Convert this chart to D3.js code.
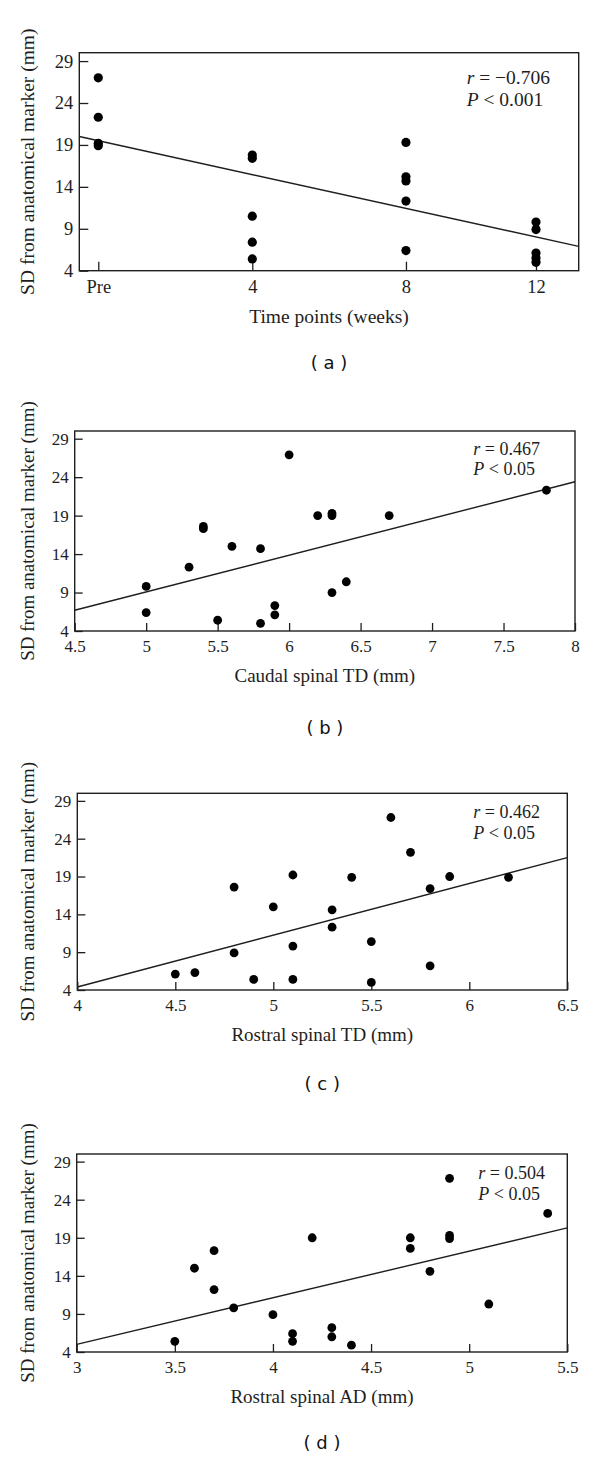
<!DOCTYPE html>
<html>
<head>
<meta charset="utf-8">
<script src="https://cdn.jsdelivr.net/npm/d3@7"></script>
<style>
  html, body { margin: 0; padding: 0; background: #fff; }
  svg { display: block; }
</style>
</head>
<body>
<script>
// ---------------- DATA ----------------
// Panel (a): time points
const aTickValues = [0, 4, 8, 12];
const aTickLabels = ["Pre", "4", "8", "12"];
const aX = [0, 0, 0, 0, 4, 4, 4, 4, 4, 8, 8, 8, 8, 8, 12, 12, 12, 12, 12];
const aY = [27.0, 22.3, 19.2, 18.9, 17.8, 17.4, 10.5, 7.4, 5.4, 19.3, 15.2, 14.7, 12.3, 6.4, 9.8, 8.9, 6.1, 5.5, 5.0];
const aLineX = [-0.5, 13.3];
const aLineY = [20.0, 6.9];
const aStats = ["−0.706", "0.001"];

// Panel (b): caudal spinal TD
const bTickValues = [4.5, 5, 5.5, 6, 6.5, 7, 7.5, 8];
const bX = [5.0, 5.0, 5.3, 5.4, 5.4, 5.5, 5.6, 5.8, 5.8, 5.9, 5.9, 6.0, 6.2, 6.3, 6.3, 6.3, 6.4, 6.7, 7.8];
const bY = [9.8, 6.4, 12.3, 17.6, 17.3, 5.4, 15.0, 14.7, 5.0, 7.3, 6.1, 26.9, 19.0, 19.3, 19.0, 9.0, 10.4, 19.0, 22.3];
const bLineX = [4.5, 8];
const bLineY = [6.7, 23.4];
const bStats = ["0.467", "0.05"];

// Panel (c): rostral spinal TD
const cTickValues = [4, 4.5, 5, 5.5, 6, 6.5];
const cX = [4.5, 4.6, 4.8, 4.8, 4.9, 5.0, 5.1, 5.1, 5.1, 5.3, 5.3, 5.4, 5.5, 5.5, 5.6, 5.7, 5.8, 5.8, 5.9, 6.2];
const cY = [6.1, 6.3, 17.6, 8.9, 5.4, 15.0, 19.2, 9.8, 5.4, 14.6, 12.3, 18.9, 10.4, 5.0, 26.8, 22.2, 17.4, 7.2, 19.0, 18.9];
const cLineX = [4, 6.5];
const cLineY = [4.4, 21.5];
const cStats = ["0.462", "0.05"];

// Panel (d): rostral spinal AD
const dTickValues = [3, 3.5, 4, 4.5, 5, 5.5];
const dX = [3.5, 3.6, 3.7, 3.7, 3.8, 4.0, 4.1, 4.1, 4.2, 4.3, 4.3, 4.4, 4.7, 4.7, 4.8, 4.9, 4.9, 4.9, 5.1, 5.4];
const dY = [5.4, 15.0, 17.3, 12.2, 9.8, 8.9, 6.4, 5.4, 19.0, 7.2, 6.0, 4.9, 19.0, 17.6, 14.6, 26.8, 19.3, 18.9, 10.3, 22.2];
const dLineX = [3, 5.5];
const dLineY = [5.0, 20.3];
const dStats = ["0.504", "0.05"];

const yTickValues = [4, 9, 14, 19, 24, 29];
const yTitle = "SD from anatomical marker (mm)";
const xTitles = ["Time points (weeks)", "Caudal spinal TD (mm)", "Rostral spinal TD (mm)", "Rostral spinal AD (mm)"];
const captions = ["( a )", "( b )", "( c )", "( d )"];

// ---------------- LAYOUT ----------------
const W = 600, H = 1460;
const SERIF = "'Liberation Serif', 'Times New Roman', serif";
const INK = "#1e1e1e";

const svg = d3.select("body").append("svg")
  .attr("width", W).attr("height", H)
  .attr("viewBox", `0 0 ${W} ${H}`);

const panels = [
  { left: 79.3, right: 578.7, top: 52.7, bottom: 270.7,
    x: aX, y: aY, lineX: aLineX, lineY: aLineY, stats: aStats,
    ticks: aTickValues, tickLabels: aTickLabels,
    xDomain: [-0.5, 0, 4, 8, 12, 13.3], xFrac: [0, 0.038, 0.3464, 0.6541, 0.9145, 1],
    tickFont: 18.5, titleFont: 19.5, statFont: 19.5, tickLen: 9,
    statDx: -112, statDy: [31, 53.5], xLabelPad: 9.5, xTitleDy: 52.6, capDy: 98, r: 4.6 },
  { left: 74.7, right: 575, top: 431, bottom: 631,
    x: bX, y: bY, lineX: bLineX, lineY: bLineY, stats: bStats,
    ticks: bTickValues, tickLabels: null, xDomain: [4.5, 8],
    tickFont: 17, titleFont: 19, statFont: 18, tickLen: 8,
    statDx: -101.7, statDy: [23.5, 44], xLabelPad: 9, xTitleDy: 51, capDy: 103, r: 4.4 },
  { left: 77.3, right: 567.3, top: 793.3, bottom: 990,
    x: cX, y: cY, lineX: cLineX, lineY: cLineY, stats: cStats,
    ticks: cTickValues, tickLabels: null, xDomain: [4, 6.5],
    tickFont: 17, titleFont: 19, statFont: 18, tickLen: 8,
    statDx: -94, statDy: [25, 45.5], xLabelPad: 9, xTitleDy: 51, capDy: 100, r: 4.4 },
  { left: 76.7, right: 567.3, top: 1154, bottom: 1352,
    x: dX, y: dY, lineX: dLineX, lineY: dLineY, stats: dStats,
    ticks: dTickValues, tickLabels: null, xDomain: [3, 5.5],
    tickFont: 17, titleFont: 19, statFont: 18, tickLen: 8,
    statDx: -89, statDy: [25, 45.5], xLabelPad: 9, xTitleDy: 51, capDy: 97, r: 4.4 }
];

panels.forEach((p, i) => {
  const w = p.right - p.left, h = p.bottom - p.top;
  const g = svg.append("g").attr("transform", `translate(${p.left},${p.top})`);

  let xs;
  if (p.xFrac) {
    xs = d3.scaleLinear().domain(p.xDomain).range(p.xFrac.map(f => f * w));
  } else {
    xs = d3.scaleLinear().domain(p.xDomain).range([0, w]);
  }
  const ys = d3.scaleLinear().domain([4, 30]).range([h, 0]);

  // x axis (inward ticks)
  const xAxis = d3.axisBottom(xs)
    .tickValues(p.ticks)
    .tickSizeInner(-p.tickLen).tickSizeOuter(0)
    .tickPadding(p.xLabelPad)
    .tickFormat((d, k) => p.tickLabels ? p.tickLabels[k] : d3.format("")(d));
  const gx = g.append("g").attr("transform", `translate(0,${h})`).call(xAxis);

  // y axis (inward ticks)
  const yAxis = d3.axisLeft(ys)
    .tickValues(yTickValues)
    .tickSizeInner(-p.tickLen).tickSizeOuter(0)
    .tickPadding(6);
  const gy = g.append("g").call(yAxis);

  [gx, gy].forEach(ax => {
    ax.select(".domain").remove();
    ax.selectAll(".tick line").attr("stroke", INK).attr("stroke-width", 1.3);
    ax.selectAll(".tick text")
      .attr("fill", INK)
      .style("font-family", SERIF)
      .style("font-size", p.tickFont + "px");
  });

  // frame
  g.append("rect")
    .attr("x", 0).attr("y", 0).attr("width", w).attr("height", h)
    .attr("fill", "none").attr("stroke", INK).attr("stroke-width", 1.4);

  // regression line
  g.append("line")
    .attr("x1", xs(p.lineX[0])).attr("y1", ys(p.lineY[0]))
    .attr("x2", xs(p.lineX[1])).attr("y2", ys(p.lineY[1]))
    .attr("stroke", INK).attr("stroke-width", 1.4);

  // points
  g.selectAll("circle.pt").data(p.x.map((v, k) => [v, p.y[k]]))
    .enter().append("circle").attr("class", "pt")
    .attr("cx", d => xs(d[0])).attr("cy", d => ys(d[1]))
    .attr("r", p.r).attr("fill", "#000");

  // stats annotation
  const st = g.append("text")
    .attr("x", w + p.statDx).attr("y", p.statDy[0])
    .attr("fill", INK)
    .style("font-family", SERIF).style("font-size", p.statFont + "px");
  st.append("tspan").style("font-style", "italic").text("r");
  st.append("tspan").text(" = " + p.stats[0]);
  const st2 = g.append("text")
    .attr("x", w + p.statDx).attr("y", p.statDy[1])
    .attr("fill", INK)
    .style("font-family", SERIF).style("font-size", p.statFont + "px");
  st2.append("tspan").style("font-style", "italic").text("P");
  st2.append("tspan").text(" < " + p.stats[1]);

  // x title
  g.append("text")
    .attr("x", w / 2).attr("y", h + p.xTitleDy)
    .attr("text-anchor", "middle").attr("fill", INK)
    .style("font-family", SERIF).style("font-size", p.titleFont + "px")
    .text(xTitles[i]);

  // y title
  svg.append("text")
    .attr("transform", `translate(34,${p.top + h / 2}) rotate(-90)`)
    .attr("text-anchor", "middle").attr("fill", INK)
    .style("font-family", SERIF).style("font-size", p.titleFont + "px")
    .text(yTitle);

  // caption
  g.append("text")
    .attr("x", w / 2).attr("y", h + p.capDy)
    .attr("text-anchor", "middle").attr("fill", "#111")
    .style("font-family", "'DejaVu Sans', Verdana, sans-serif")
    .style("font-size", "18px")
    .attr("xml:space", "preserve")
    .text(captions[i]);
});
</script>
</body>
</html>
